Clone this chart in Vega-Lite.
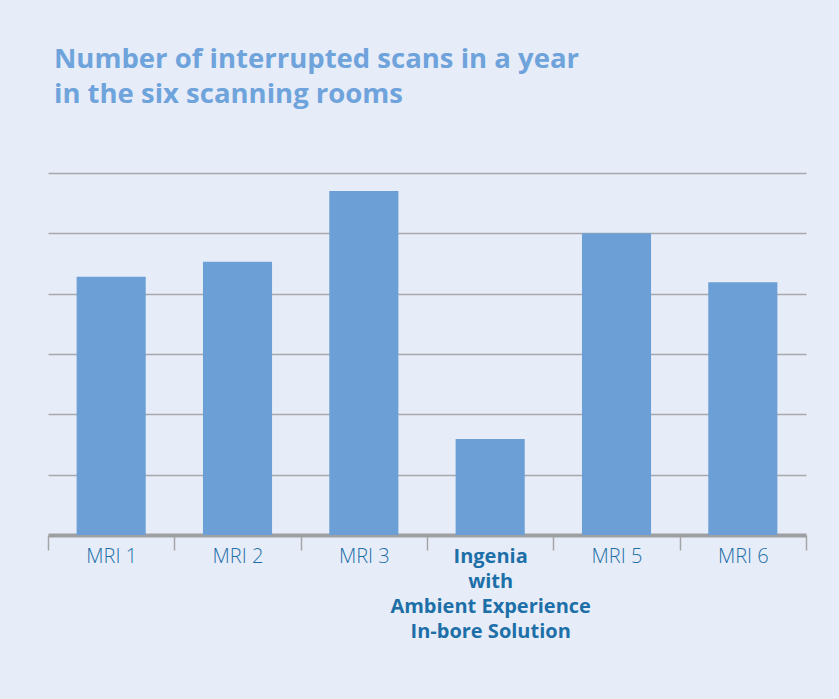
{
  "$schema": "https://vega.github.io/schema/vega-lite/v6.json",
  "width": 758,
  "height": 362,
  "autosize": {"type": "none"},
  "padding": {"left": 48, "top": 173, "right": 33, "bottom": 164},
  "background": "#e7edf8",
  "title": {
    "text": ["Number of interrupted scans in a year", "in the six scanning rooms"],
    "anchor": "start",
    "frame": "group",
    "dx": 6,
    "offset": 65,
    "font": "Open Sans",
    "fontSize": 27.5,
    "fontWeight": "bold",
    "lineHeight": 35,
    "color": "#6fa3db"
  },
  "data": {
    "values": [
      {"room": "MRI 1", "scans": 4.28},
      {"room": "MRI 2", "scans": 4.53},
      {"room": "MRI 3", "scans": 5.70},
      {"room": "Ingenia|with|Ambient Experience|In-bore Solution", "scans": 1.59},
      {"room": "MRI 5", "scans": 5.0},
      {"room": "MRI 6", "scans": 4.19}
    ]
  },
  "config": {
    "view": {"stroke": null},
    "font": "Open Sans"
  },
  "mark": {"type": "bar", "color": "#6b9fd5", "width": {"band": 0.547}},
  "encoding": {
    "x": {
      "field": "room",
      "type": "nominal",
      "sort": null,
      "scale": {"paddingInner": 0, "paddingOuter": 0},
      "axis": {
        "title": null,
        "labelAngle": 0,
        "domainColor": "#9d9fa2",
        "domainWidth": 4,
        "tickColor": "#a3a5a8",
        "tickWidth": 1.5,
        "tickSize": 15,
        "tickBand": "extent",
        "labelPadding": -4,
        "labelFont": "Open Sans",
        "labelFontSize": 20,
        "labelLineHeight": 25,
        "labelColor": "#1d6fa8",
        "labelFontWeight": {"condition": {"test": "datum.value && indexof(datum.value, 'Ingenia') >= 0", "value": "bold"}, "value": 300},
        "labelExpr": "datum.value ? split(datum.value, '|') : ''",
        "labelLimit": 300
      }
    },
    "y": {
      "field": "scans",
      "type": "quantitative",
      "scale": {"domain": [0, 6], "nice": false},
      "axis": {
        "title": null,
        "values": [1, 2, 3, 4, 5, 6],
        "labels": false,
        "ticks": false,
        "domain": false,
        "grid": true,
        "gridColor": "#a6a8ab",
        "gridWidth": 1.5
      }
    }
  }
}
